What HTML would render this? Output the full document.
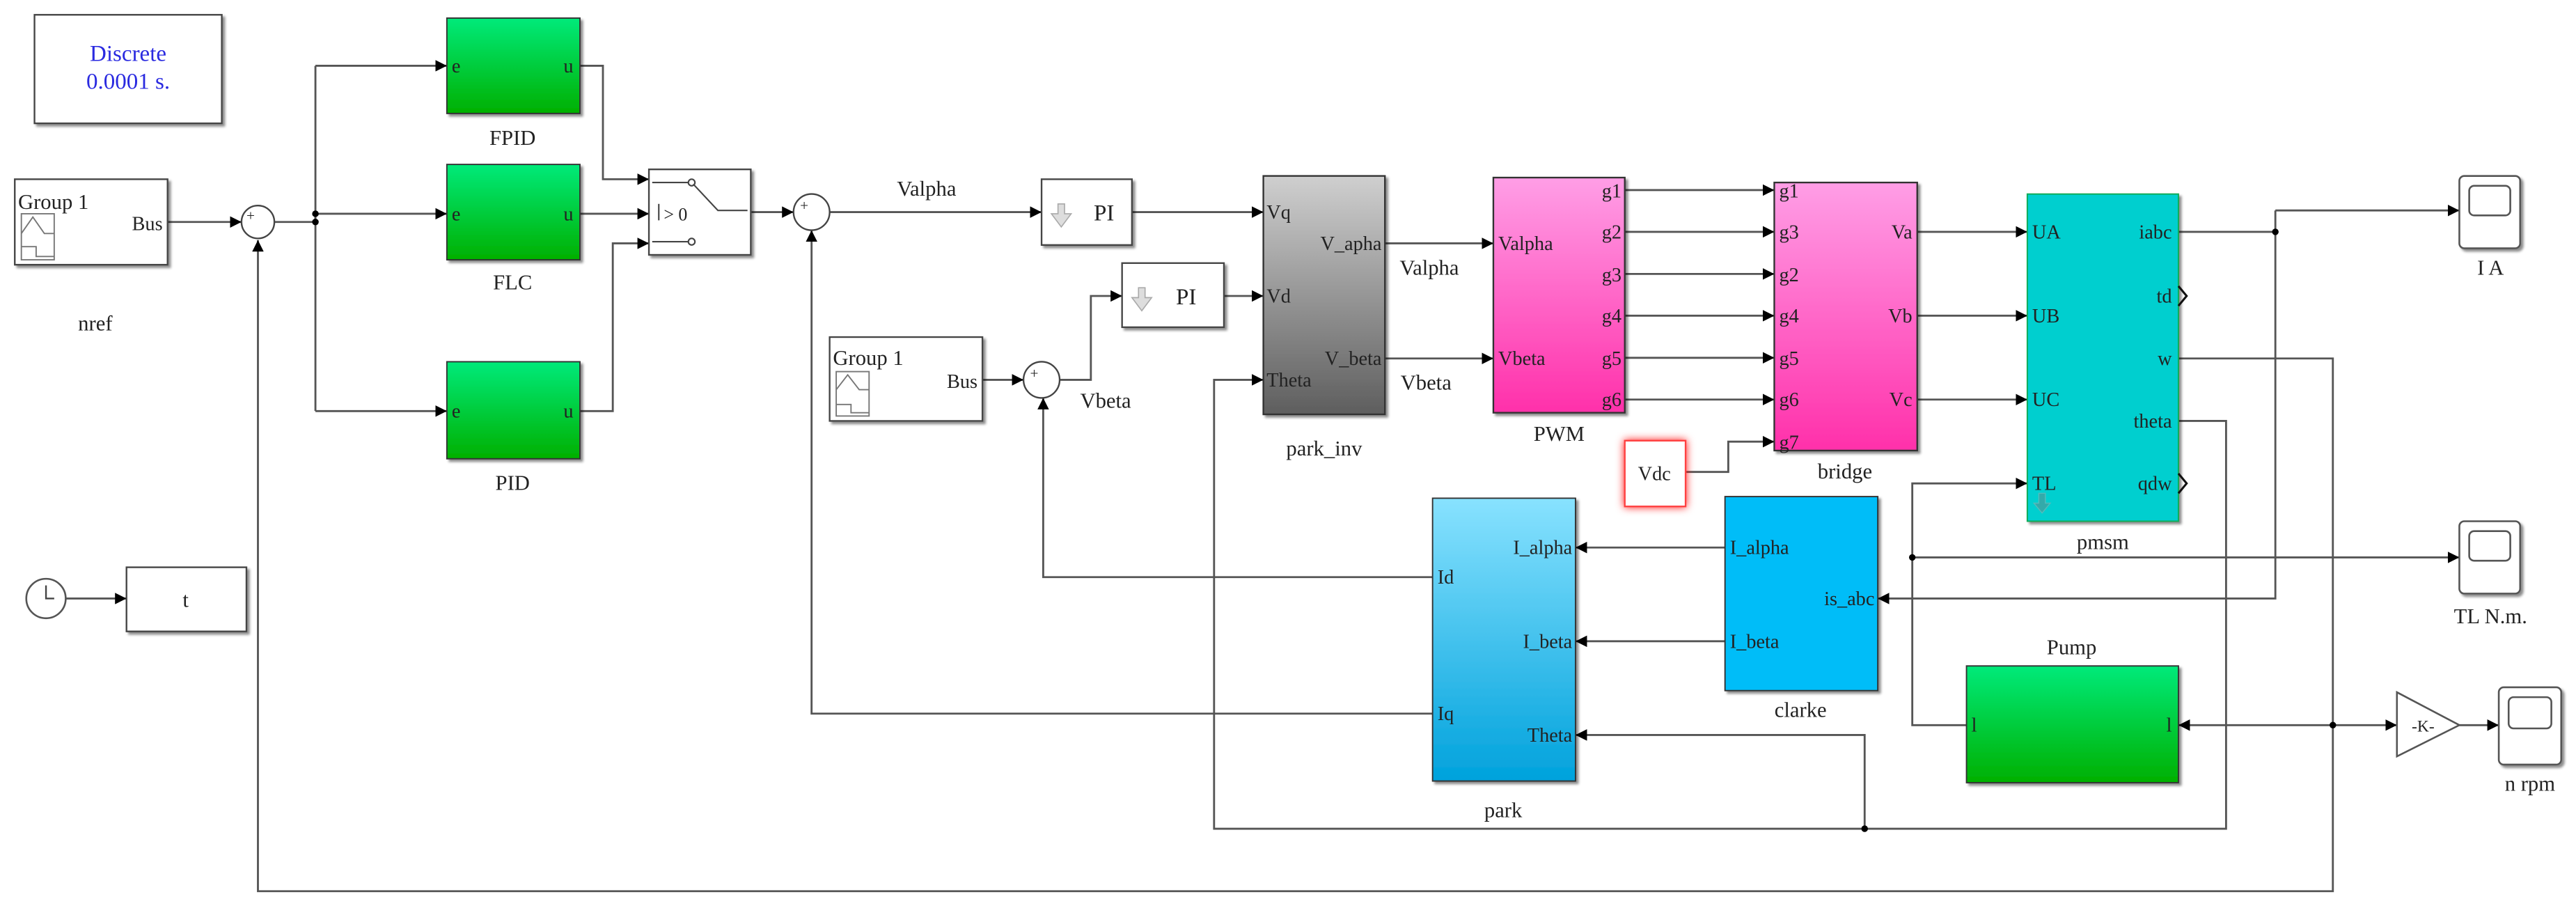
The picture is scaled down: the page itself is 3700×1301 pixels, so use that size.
<!DOCTYPE html>
<html><head><meta charset="utf-8"><style>
html,body{margin:0;padding:0;background:#fff;}
svg{display:block;}
text{font-family:"Liberation Serif",serif;fill:#222;}
</style></head><body>
<svg width="3700" height="1301" viewBox="0 0 1568 551" preserveAspectRatio="none" xmlns="http://www.w3.org/2000/svg">
<defs>
<marker id="a" viewBox="0 0 10 10" refX="10" refY="5" markerWidth="7" markerHeight="7" markerUnits="userSpaceOnUse" orient="auto"><path d="M0,0 L10,5 L0,10 z" fill="#000"/></marker>
<linearGradient id="gG" x1="0" y1="0" x2="0" y2="1"><stop offset="0" stop-color="#00ea7a"/><stop offset="1" stop-color="#00b000"/></linearGradient>
<linearGradient id="gK" x1="0" y1="0" x2="0" y2="1"><stop offset="0" stop-color="#cfcfcf"/><stop offset="1" stop-color="#5e5e5e"/></linearGradient>
<linearGradient id="gP" x1="0" y1="0" x2="0" y2="1"><stop offset="0" stop-color="#ff9ee6"/><stop offset="1" stop-color="#ff30aa"/></linearGradient>
<linearGradient id="gB" x1="0" y1="0" x2="0" y2="1"><stop offset="0" stop-color="#88e2ff"/><stop offset="1" stop-color="#00a2dc"/></linearGradient>
<filter id="sh" x="-10%" y="-10%" width="130%" height="130%"><feDropShadow dx="1.5" dy="1.5" stdDeviation="0.8" flood-color="#000" flood-opacity="0.45"/></filter>
<filter id="red" x="-50%" y="-50%" width="200%" height="200%"><feDropShadow dx="0" dy="0" stdDeviation="2.5" flood-color="#ff0000" flood-opacity="0.9"/></filter>
</defs>

<!-- connectors -->
<g fill="none" stroke="#555" stroke-width="1.2">
<path d="M102,135 H147" marker-end="url(#a)"/>
<path d="M167,135 H192 V130 H272" marker-end="url(#a)"/>
<path d="M192,40 V250"/>
<path d="M192,40 H272" marker-end="url(#a)"/>
<path d="M192,250 H272" marker-end="url(#a)"/>
<path d="M353,40 H367 V109 H395" marker-end="url(#a)"/>
<path d="M353,130 H395" marker-end="url(#a)"/>
<path d="M353,250 H373 V148 H395" marker-end="url(#a)"/>
<path d="M457,129 H483" marker-end="url(#a)"/>
<path d="M505,129 H634" marker-end="url(#a)"/>
<path d="M689,129 H769" marker-end="url(#a)"/>
<path d="M598,231 H623" marker-end="url(#a)"/>
<path d="M645,231 H664 V180 H683" marker-end="url(#a)"/>
<path d="M745,180 H769" marker-end="url(#a)"/>
<path d="M843,148 H909" marker-end="url(#a)"/>
<path d="M843,218 H909" marker-end="url(#a)"/>
<path d="M989,115.6 H1080" marker-end="url(#a)"/>
<path d="M989,141 H1080" marker-end="url(#a)"/>
<path d="M989,166.6 H1080" marker-end="url(#a)"/>
<path d="M989,192 H1080" marker-end="url(#a)"/>
<path d="M989,217.6 H1080" marker-end="url(#a)"/>
<path d="M989,243 H1080" marker-end="url(#a)"/>
<path d="M1026,287 H1052 V268.6 H1080" marker-end="url(#a)"/>
<path d="M1167,141 H1234" marker-end="url(#a)"/>
<path d="M1167,192 H1234" marker-end="url(#a)"/>
<path d="M1167,243 H1234" marker-end="url(#a)"/>
<path d="M1326,141 H1385"/>
<path d="M1385,128 H1497" marker-end="url(#a)"/>
<path d="M1385,128 V364 H1143" marker-end="url(#a)"/>
<path d="M1326,218 H1420 V542 H157 V146" marker-end="url(#a)"/>
<path d="M1326,256 H1355 V504 H739 V231 H769" marker-end="url(#a)"/>
<path d="M1135,504 V447 H959" marker-end="url(#a)"/>
<path d="M1050,333 H959" marker-end="url(#a)"/>
<path d="M1050,390 H959" marker-end="url(#a)"/>
<path d="M872,351 H635 V242" marker-end="url(#a)"/>
<path d="M872,434 H494 V140" marker-end="url(#a)"/>
<path d="M1420,441 H1326" marker-end="url(#a)"/>
<path d="M1197,441 H1164 V294 H1234" marker-end="url(#a)"/>
<path d="M1164,339 H1497" marker-end="url(#a)"/>
<path d="M1420,441 H1459" marker-end="url(#a)"/>
<path d="M1497,441 H1521" marker-end="url(#a)"/>
<path d="M40,364 H77" marker-end="url(#a)"/>
</g>
<g fill="#000">
<circle cx="192" cy="130" r="2"/><circle cx="192" cy="135" r="2"/>
<circle cx="1385" cy="141" r="2"/><circle cx="1420" cy="441" r="2"/>
<circle cx="1135" cy="504" r="2"/><circle cx="1164" cy="339" r="2"/>
</g>

<!-- Discrete -->
<rect x="21" y="9" width="114" height="66" fill="#fff" stroke="#444" stroke-width="1" filter="url(#sh)"/>
<text x="78" y="37" font-size="14" text-anchor="middle" style="fill:#2a2ae0">Discrete</text>
<text x="78" y="54" font-size="14" text-anchor="middle" style="fill:#2a2ae0">0.0001 s.</text>

<!-- Group 1 left -->
<rect x="9" y="109" width="93" height="52" fill="#fff" stroke="#444" filter="url(#sh)"/>
<text x="11" y="127" font-size="13">Group 1</text>
<text x="99" y="140" font-size="12" text-anchor="end">Bus</text>
<rect x="13" y="130" width="20" height="28" fill="none" stroke="#777" stroke-width="0.8"/>
<polyline points="13,142 20,132 27,142 33,142" fill="none" stroke="#777" stroke-width="0.8"/>
<polyline points="13,150 22,150 22,156 33,156" fill="none" stroke="#777" stroke-width="0.8"/>
<text x="58" y="201" font-size="13" text-anchor="middle">nref</text>

<!-- sums -->
<g fill="#fff" stroke="#444" stroke-width="1">
<circle cx="157" cy="135" r="10"/><circle cx="494" cy="129" r="11"/><circle cx="634" cy="231" r="11"/>
</g>
<g font-size="9"><text x="150" y="134">+</text><text x="487" y="128">+</text><text x="627" y="230">+</text></g>

<!-- controllers -->
<g filter="url(#sh)" stroke="#333" stroke-width="0.8" fill="url(#gG)">
<rect x="272" y="11" width="81" height="58"/>
<rect x="272" y="100" width="81" height="58"/>
<rect x="272" y="220" width="81" height="59"/>
<rect x="1197" y="405" width="129" height="71"/>
</g>
<g font-size="12">
<text x="275" y="44">e</text><text x="349" y="44" text-anchor="end">u</text>
<text x="275" y="134">e</text><text x="349" y="134" text-anchor="end">u</text>
<text x="275" y="254">e</text><text x="349" y="254" text-anchor="end">u</text>
<text x="1200" y="445">l</text><text x="1322" y="445" text-anchor="end">l</text>
</g>
<g font-size="13" text-anchor="middle">
<text x="312" y="88">FPID</text><text x="312" y="176">FLC</text><text x="312" y="298">PID</text>
<text x="1261" y="398">Pump</text>
</g>

<!-- switch -->
<rect x="395" y="103" width="62" height="52" fill="#fff" stroke="#444" filter="url(#sh)"/>
<g stroke="#444" stroke-width="0.9" fill="none">
<path d="M397,111 H419"/><path d="M397,147 H419"/>
<circle cx="421" cy="111" r="2"/><circle cx="421" cy="147" r="2"/>
<path d="M422,112 L437,128 H455"/>
<path d="M401,124 V134"/>
</g>
<text x="404" y="134" font-size="11">&gt; 0</text>

<text x="564" y="119" font-size="13" text-anchor="middle">Valpha</text>
<!-- PI blocks -->
<rect x="634" y="109" width="55" height="40" fill="#fff" stroke="#444" filter="url(#sh)"/>
<rect x="683" y="160" width="62" height="39" fill="#fff" stroke="#444" filter="url(#sh)"/>
<text x="672" y="134" font-size="14" text-anchor="middle">PI</text>
<text x="722" y="185" font-size="14" text-anchor="middle">PI</text>
<path d="M640,130 h4 v-6 h4 v6 h4 l-6,8 z" fill="#ddd" stroke="#aaa" stroke-width="0.7"/>
<path d="M689,181 h4 v-6 h4 v6 h4 l-6,8 z" fill="#ddd" stroke="#aaa" stroke-width="0.7"/>

<!-- Group 1 second -->
<rect x="505" y="205" width="93" height="51" fill="#fff" stroke="#444" filter="url(#sh)"/>
<text x="507" y="222" font-size="13">Group 1</text>
<text x="595" y="236" font-size="12" text-anchor="end">Bus</text>
<rect x="509" y="226" width="20" height="27" fill="none" stroke="#777" stroke-width="0.8"/>
<polyline points="509,237 516,228 523,237 529,237" fill="none" stroke="#777" stroke-width="0.8"/>
<polyline points="509,246 518,246 518,251 529,251" fill="none" stroke="#777" stroke-width="0.8"/>
<text x="673" y="248" font-size="13" text-anchor="middle">Vbeta</text>

<!-- park_inv -->
<rect x="769" y="107" width="74" height="145" fill="url(#gK)" stroke="#333" filter="url(#sh)"/>
<g font-size="12">
<text x="771" y="133">Vq</text><text x="771" y="184">Vd</text><text x="771" y="235">Theta</text>
<text x="841" y="152" text-anchor="end">V_apha</text><text x="841" y="222" text-anchor="end">V_beta</text>
</g>
<text x="806" y="277" font-size="13" text-anchor="middle">park_inv</text>
<text x="870" y="167" font-size="13" text-anchor="middle">Valpha</text>
<text x="868" y="237" font-size="13" text-anchor="middle">Vbeta</text>

<!-- PWM -->
<rect x="909" y="108" width="80" height="143" fill="url(#gP)" stroke="#333" filter="url(#sh)"/>
<g font-size="12">
<text x="912" y="152">Valpha</text><text x="912" y="222">Vbeta</text>
<g text-anchor="end"><text x="987" y="120">g1</text><text x="987" y="145">g2</text><text x="987" y="171">g3</text><text x="987" y="196">g4</text><text x="987" y="222">g5</text><text x="987" y="247">g6</text></g>
</g>
<text x="949" y="268" font-size="13" text-anchor="middle">PWM</text>

<!-- bridge -->
<rect x="1080" y="111" width="87" height="163" fill="url(#gP)" stroke="#333" filter="url(#sh)"/>
<g font-size="12">
<text x="1083" y="120">g1</text><text x="1083" y="145">g3</text><text x="1083" y="171">g2</text><text x="1083" y="196">g4</text><text x="1083" y="222">g5</text><text x="1083" y="247">g6</text><text x="1083" y="273">g7</text>
<g text-anchor="end"><text x="1164" y="145">Va</text><text x="1164" y="196">Vb</text><text x="1164" y="247">Vc</text></g>
</g>
<text x="1123" y="291" font-size="13" text-anchor="middle">bridge</text>

<!-- Vdc -->
<rect x="989" y="268" width="37" height="40" fill="#fff" stroke="#ff4040" stroke-width="1" filter="url(#red)"/>
<text x="1007" y="292" font-size="12" text-anchor="middle">Vdc</text>

<!-- pmsm -->
<rect x="1234" y="118" width="92" height="199" fill="#00cfcf" stroke="#1a5" stroke-width="0.8" filter="url(#sh)"/>
<g font-size="12">
<text x="1237" y="145">UA</text><text x="1237" y="196">UB</text><text x="1237" y="247">UC</text><text x="1237" y="298">TL</text>
<g text-anchor="end"><text x="1322" y="145">iabc</text><text x="1322" y="184">td</text><text x="1322" y="222">w</text><text x="1322" y="260">theta</text><text x="1322" y="298">qdw</text></g>
</g>
<path d="M1241,300 v6 h-3 l5,6 l5,-6 h-3 v-6 z" fill="#33aaaa" stroke="#5bb" stroke-width="0.6"/>
<g fill="none" stroke="#111" stroke-width="1.3"><path d="M1326,174 l5,6 l-5,6"/><path d="M1326,288 l5,6 l-5,6"/></g>
<text x="1280" y="334" font-size="13" text-anchor="middle">pmsm</text>

<!-- clarke -->
<rect x="1050" y="302" width="93" height="118" fill="#00bdf8" stroke="#333" stroke-width="0.8" filter="url(#sh)"/>
<g font-size="12"><text x="1053" y="337">I_alpha</text><text x="1053" y="394">I_beta</text><text x="1141" y="368" text-anchor="end">is_abc</text></g>
<text x="1096" y="436" font-size="13" text-anchor="middle">clarke</text>

<!-- park -->
<rect x="872" y="303" width="87" height="172" fill="url(#gB)" stroke="#333" stroke-width="0.8" filter="url(#sh)"/>
<g font-size="12"><text x="957" y="337" text-anchor="end">I_alpha</text><text x="957" y="394" text-anchor="end">I_beta</text><text x="957" y="451" text-anchor="end">Theta</text><text x="875" y="355">Id</text><text x="875" y="438">Iq</text></g>
<text x="915" y="497" font-size="13" text-anchor="middle">park</text>

<!-- scopes -->
<g fill="#fff" stroke="#555" stroke-width="1.1">
<rect x="1497" y="107" width="37" height="44" rx="3" filter="url(#sh)"/><rect x="1503" y="113" width="25" height="18" rx="3"/>
<rect x="1497" y="317" width="37" height="44" rx="3" filter="url(#sh)"/><rect x="1503" y="323" width="25" height="18" rx="3"/>
<rect x="1521" y="418" width="38" height="47" rx="3" filter="url(#sh)"/><rect x="1527" y="424" width="26" height="19" rx="3"/>
<path d="M1459,421 L1497,441 L1459,460 z"/>
</g>
<text x="1468" y="445" font-size="10">-K-</text>
<text x="1516" y="167" font-size="13" text-anchor="middle">I A</text>
<text x="1516" y="379" font-size="13" text-anchor="middle">TL  N.m.</text>
<text x="1540" y="481" font-size="13" text-anchor="middle">n rpm</text>

<!-- clock & t -->
<circle cx="28" cy="364" r="12" fill="#fff" stroke="#555" stroke-width="1.1"/>
<path d="M28,356 V364 H33" fill="none" stroke="#444" stroke-width="1"/>
<rect x="77" y="345" width="73" height="39" fill="#fff" stroke="#444" filter="url(#sh)"/>
<text x="113" y="369" font-size="13" text-anchor="middle">t</text>
</svg>
</body></html>
